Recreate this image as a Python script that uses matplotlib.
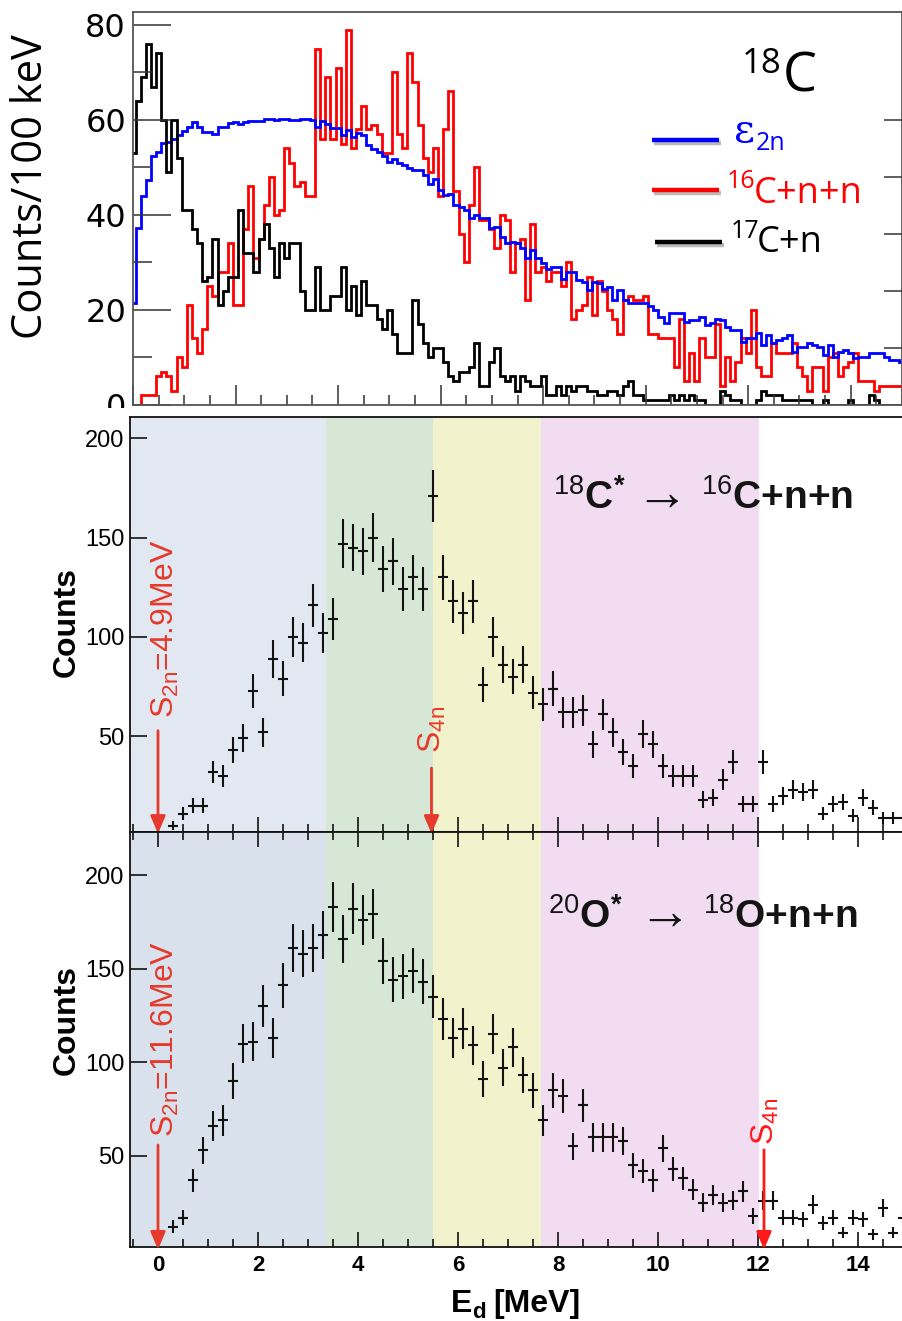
import numpy as np
import matplotlib
matplotlib.use("Agg")
import matplotlib.pyplot as plt
import matplotlib.patheffects as pe
from matplotlib.lines import Line2D
from matplotlib.patches import Rectangle
from matplotlib.ticker import MultipleLocator, FixedLocator

plt.rcParams["mathtext.fontset"] = "custom"
plt.rcParams["mathtext.rm"] = "Liberation Sans"
plt.rcParams["mathtext.it"] = "Liberation Sans:italic"
plt.rcParams["mathtext.bf"] = "Liberation Sans:bold"

W, H = 903, 1321

# ---------------------------------------------------------------- data
# 18C decay-energy spectra: 100 keV bins centred on 0.0, 0.1, ..., 15.0 MeV
top_bin_centers = np.round(np.arange(151) * 0.1, 2)

eff_2n = [
    21.4, 37.3, 44.0, 47.3, 52.4, 53.3, 55.1, 55.4, 55.9, 56.8,
    57.7, 58.6, 59.6, 58.6, 57.5, 57.5, 57.0, 58.6, 58.6, 59.3,
    59.6, 59.1, 59.6, 59.8, 59.8, 59.8, 60.2, 60.2, 60.0, 60.2,
    60.2, 60.0, 60.0, 60.2, 60.2, 60.0, 58.4, 59.8, 59.1, 58.2,
    58.2, 56.8, 57.9, 56.3, 57.2, 56.8, 54.7, 53.8, 53.3, 52.3,
    51.1, 51.8, 50.9, 50.4, 49.9, 49.4, 49.4, 48.4, 46.6, 47.6,
    45.3, 44.2, 44.5, 42.1, 41.7, 41.0, 39.3, 40.0, 39.3, 39.3,
    37.2, 37.5, 35.4, 34.0, 34.4, 34.0, 33.0, 30.9, 32.6, 30.9,
    29.8, 28.7, 29.1, 29.1, 26.6, 28.0, 28.0, 26.3, 25.9, 24.2,
    25.9, 25.6, 24.5, 24.9, 22.1, 24.2, 22.1, 21.4, 21.4, 21.4,
    21.4, 20.8, 20.0, 18.6, 17.2, 19.3, 19.3, 19.3, 17.5, 17.9,
    17.9, 18.6, 16.8, 17.2, 18.2, 17.9, 16.5, 15.8, 15.8, 13.3,
    14.0, 14.0, 15.1, 12.6, 14.7, 13.0, 13.7, 14.0, 14.7, 11.2,
    12.3, 12.3, 13.0, 12.6, 12.3, 10.5, 12.6, 10.2, 11.2, 11.6,
    10.9, 9.8, 10.2, 10.2, 10.9, 10.9, 10.9, 10.2, 9.5, 9.5, 9.1,
]

counts_16c_nn = [
    0, 0, 2, 2, 2, 6, 7, 6, 3, 10,
    8, 21, 14, 11, 16, 25, 23, 28, 28, 34,
    21, 21, 37, 46, 31, 35, 42, 48, 40, 41,
    54, 51, 46, 47, 44, 44, 75, 56, 69, 56,
    71, 55, 79, 54, 58, 63, 58, 59, 57, 53,
    53, 70, 57, 54, 74, 68, 59, 52, 49, 54,
    44, 58, 66, 45, 36, 30, 42, 50, 39, 39,
    37, 33, 40, 39, 28, 34, 35, 22, 38, 28,
    29, 26, 28, 28, 25, 30, 18, 20, 21, 27,
    19, 26, 24, 20, 18, 15, 22, 23, 22, 22,
    23, 15, 15, 14, 14, 14, 8, 18, 5, 11,
    5, 14, 10, 10, 17, 4, 10, 5, 9, 14,
    11, 20, 8, 6, 6, 13, 11, 11, 11, 13,
    8, 6, 3, 8, 8, 3, 10, 11, 6, 8,
    9, 11, 5, 5, 5, 3, 4, 4, 4, 4, 4,
]

counts_17c_n = [
    53, 64, 69, 76, 67, 74, 60, 49, 60, 52,
    41, 41, 37, 34, 26, 27, 35, 21, 24, 27,
    27, 41, 32, 32, 28, 35, 38, 33, 27, 34,
    31, 34, 34, 24, 20, 20, 29, 20, 20, 23,
    23, 29, 20, 25, 19, 26, 21, 21, 18, 16,
    20, 15, 11, 11, 11, 22, 17, 13, 10, 12,
    12, 9, 6, 5, 7, 7, 8, 13, 4, 4,
    9, 12, 6, 5, 6, 3, 6, 5, 4, 4,
    6, 2, 2, 4, 2, 4, 3, 4, 4, 3,
    3, 2, 2, 3, 3, 2, 4, 5, 2, 2,
    1, 1, 1, 1, 1, 2, 1, 2, 1, 2,
    1, 1, 0, 0, 0, 3, 2, 1, 1, 0,
    0, 0, 1, 3, 2, 2, 2, 1, 1, 1,
    1, 1, 1, 0, 0, 1, 0, 0, 0, 0,
    1, 0, 0, 0, 2, 1, 0, 0, 0, 0, 0,
]

# Ed spectra: 200 keV bins centred on 0.3, 0.5, ..., 14.9 MeV
ed_centers = np.round(0.3 + 0.2 * np.arange(74), 2)

counts_18c = [
    5, 11, 15, 15, 32, 30, 43, 49, 73, 52,
    89, 79, 100, 97, 116, 102, 109, 147, 145, 143,
    150, 134, 138, 124, 130, 124, 171, 130, 118, 112,
    118, 76, 100, 86, 80, 86, 72, 66, 74, 62,
    62, 63, 46, 61, 52, 42, 35, 51, 46, 35,
    30, 30, 30, 18, 19, 28, 37, 16, 16, 37,
    16, 20, 23, 22, 23, 11, 16, 17, 10, 19,
    14, 9, 9, 9,
]

counts_20o = [
    12, 17, 37, 53, 66, 69, 90, 110, 111, 130,
    113, 141, 161, 158, 161, 168, 183, 166, 182, 176,
    179, 154, 144, 146, 149, 143, 135, 123, 113, 118,
    109, 91, 115, 97, 108, 93, 85, 69, 85, 82,
    55, 77, 60, 60, 60, 58, 45, 42, 37, 54,
    43, 38, 32, 25, 29, 25, 26, 31, 18, 26,
    26, 17, 17, 16, 24, 14, 17, 9, 17, 16,
    8, 22, 9, 17,
]

# Ed windows (MeV) and their fills
window_bounds = [-0.56, 3.36, 5.49, 7.66, 12.01]
window_colors_mid = ["#e1e8f1", "#d6e8d5", "#f2f2cd", "#f2dcf1"]
window_colors_bot = ["#d9e2ec", "#d6e8d5", "#f2f2cd", "#f2dcf1"]

# thresholds
s2n_18c, s4n_18c = 0.0, 5.47
s2n_20o, s4n_20o = 0.0, 12.12


def rect(x0, y0, x1, y1):
    return [x0 / W, 1 - y1 / H, (x1 - x0) / W, (y1 - y0) / H]


def fx(px):
    return px / W


def fy(py):
    return 1 - py / H


fig = plt.figure(figsize=(W / 100, H / 100), dpi=100)

# ---------------------------------------------------------------- top panel
ax_t = fig.add_axes(rect(133, 12, 902, 405))
ax_t.set_zorder(1)
edges = np.append(top_bin_centers - 0.05, top_bin_centers[-1] + 0.05)
ax_t.stairs(counts_16c_nn, edges, color="#ff0000", lw=2.0, baseline=None)
ax_t.stairs(eff_2n, edges, color="#0000ff", lw=2.0, baseline=None)
ax_t.stairs(counts_17c_n, edges, color="black", lw=2.0, baseline=None)
ax_t.set_xlim(0, 15)
ax_t.set_ylim(0, 82.7)
ax_t.xaxis.set_major_locator(MultipleLocator(2))
ax_t.xaxis.set_minor_locator(MultipleLocator(0.5))
ax_t.yaxis.set_major_locator(MultipleLocator(20))
ax_t.yaxis.set_minor_locator(MultipleLocator(10))
ax_t.tick_params(axis="x", which="major", direction="in", length=14.4, width=1.1,
                 color="#333333", labelbottom=False)
ax_t.tick_params(axis="x", which="minor", direction="in", length=7.2, width=1.1,
                 color="#333333")
ax_t.tick_params(axis="y", which="major", direction="in", length=27.4, width=1.1,
                 color="#333333", labelsize=23, pad=5)
ax_t.tick_params(axis="y", which="minor", direction="in", length=13.7, width=1.1,
                 color="#333333")
for lbl in ax_t.get_yticklabels():
    lbl.set_fontfamily("DejaVu Sans")
for sp in ax_t.spines.values():
    sp.set_color("#555555")
    sp.set_linewidth(1.3)

ax_r = ax_t.twinx()
ax_r.set_zorder(1)
ax_r.set_ylim(0, 82.7)
ax_r.yaxis.set_major_locator(FixedLocator([12, 24, 36, 48, 60]))
ax_r.yaxis.set_minor_locator(FixedLocator([]))
ax_r.tick_params(axis="y", direction="in", length=13, width=1.1, color="#333333",
                 labelright=False)
for sp in ax_r.spines.values():
    sp.set_visible(False)

fig.text(fx(31), fy(187), "Counts/100 keV", rotation=90, ha="center", va="center",
         fontsize=30, family="Open Sans", color="black")

# nucleus label and legend
fig.text(fx(742), fy(73), "18", fontsize=25, family="Open Sans", ha="left",
         va="baseline")
fig.text(fx(783), fy(92), "C", fontsize=39, family="Open Sans", ha="left",
         va="baseline")

shadow = [pe.SimpleLineShadow(offset=(1.5, -2.5), shadow_color="#777777", alpha=0.5),
          pe.Normal()]
for (x0, x1, y, c) in [(652, 719, 140, "#0000ff"), (652, 719, 190, "#ff0000"),
                       (655, 722, 242, "black")]:
    fig.add_artist(Line2D([fx(x0), fx(x1)], [fy(y), fy(y)], color=c, lw=3.2,
                          solid_capstyle="butt", path_effects=shadow,
                          transform=fig.transFigure, zorder=5))

fig.text(fx(734), fy(142), "\u03b5", fontsize=29, family="DejaVu Serif",
         color="#0000ff", ha="left", va="baseline")
fig.text(fx(756), fy(150), "2n", fontsize=18, family="Open Sans",
         color="#0000ff", ha="left", va="baseline")
fig.text(fx(727), fy(188), "16", fontsize=18, family="Open Sans",
         color="#ff0000", ha="left", va="baseline")
fig.text(fx(754), fy(203), "C+n+n", fontsize=26, family="Open Sans",
         color="#ff0000", ha="left", va="baseline")
fig.text(fx(731), fy(238), "17", fontsize=18, family="Open Sans",
         color="black", ha="left", va="baseline")
fig.text(fx(757), fy(252), "C+n", fontsize=26, family="Open Sans",
         color="black", ha="left", va="baseline")

# hide the lower part of the top panel's "0" label
fig.add_artist(Rectangle((0, 0), 128 / W, 1 - 408 / H, transform=fig.transFigure,
                         facecolor="white", edgecolor="none", zorder=2))


# ---------------------------------------------------------------- Ed panels
def ed_panel(box, ylim, counts, colors):
    ax = fig.add_axes(rect(*box))
    ax.set_zorder(3)
    ax.set_xlim(-0.56, 15.04)
    ax.set_ylim(*ylim)
    for i, c in enumerate(colors):
        ax.axvspan(window_bounds[i], window_bounds[i + 1], color=c, lw=0, zorder=0)
    counts = np.asarray(counts, dtype=float)
    ax.errorbar(ed_centers, counts, xerr=0.1, yerr=np.sqrt(counts), fmt="none",
                ecolor="#121212", elinewidth=1.5, capsize=0, zorder=3)
    ax.xaxis.set_major_locator(MultipleLocator(2))
    ax.xaxis.set_minor_locator(MultipleLocator(0.5))
    ax.yaxis.set_major_locator(FixedLocator([50, 100, 150, 200]))
    ax.tick_params(axis="y", which="major", direction="in", length=12, width=1.1,
                   labelsize=17, pad=4)
    ax.tick_params(axis="x", which="major", direction="in", length=10.5, width=1.1)
    ax.tick_params(axis="x", which="minor", direction="in", length=5.5, width=1.1)
    for lbl in ax.get_yticklabels():
        lbl.set_fontfamily("Liberation Sans")
    for sp in ax.spines.values():
        sp.set_linewidth(1.3)
        sp.set_color("#111111")
    ax.spines["right"].set_visible(False)
    return ax


ax_m = ed_panel((130, 417, 910, 832), (1.8, 210.7), counts_18c, window_colors_mid)
ax_m.tick_params(axis="x", labelbottom=False)

ax_b = ed_panel((130, 832, 910, 1247), (1.3, 223.0), counts_20o, window_colors_bot)
ax_b.tick_params(axis="x", which="both", top=True, labelsize=16, pad=6)
for lbl in ax_b.get_xticklabels():
    lbl.set_fontfamily("Liberation Sans")
    lbl.set_fontweight("bold")

RED = "#e63a2c"
arrow_kw = dict(arrowstyle="-|>,head_length=0.7,head_width=0.3", lw=2.0,
                mutation_scale=15, shrinkA=0, shrinkB=0)


def threshold(ax, x, y_top, y_tip, label, lx, ly, color):
    ax.annotate("", xy=(x, y_tip), xytext=(x, y_top), annotation_clip=False,
                arrowprops=dict(color=color, **arrow_kw), zorder=4)
    ax.text(lx, ly, label, rotation=90, ha="center", va="bottom", fontsize=23,
            color=color, family="Liberation Sans", zorder=4)


threshold(ax_m, s2n_18c, 52.8, 1.0, r"S$_{\mathrm{2n}}$=4.9MeV", 0.14, 59.2, RED)
threshold(ax_m, s4n_18c, 34.0, 1.0, r"S$_{\mathrm{4n}}$", 5.48, 41.5, RED)
threshold(ax_b, s2n_20o, 55.8, 0.0, r"S$_{\mathrm{2n}}$=11.6MeV", 0.14, 60.1, RED)
threshold(ax_b, s4n_20o, 53.2, 0.0, r"S$_{\mathrm{4n}}$", 12.14, 55.8, "#ff1a1a")

# reaction labels: parent, arrow, products
TXT = "#141414"
for (x_parent, x_arrow, x_prod, y_base, parent, products) in [
        (553, 627, 701, 509, r"$^{18}$C$^{\mathbf{*}}$", r"$^{16}$C+n+n"),
        (548, 630, 703, 928, r"$^{20}$O$^{\mathbf{*}}$", r"$^{18}$O+n+n")]:
    fig.text(fx(x_parent), fy(y_base), parent, fontsize=28, fontweight="bold",
             family="Liberation Sans", color=TXT, ha="left", va="baseline", zorder=6)
    fig.text(fx(x_arrow), fy(y_base), r"$\rightarrow$", fontsize=38,
             color=TXT, ha="left", va="baseline", zorder=6)
    fig.text(fx(x_prod), fy(y_base), products, fontsize=28, fontweight="bold",
             family="Liberation Sans", color=TXT, ha="left", va="baseline", zorder=6)

for yc in (622, 1020):
    fig.text(fx(67), fy(yc), "Counts", rotation=90, ha="center", va="center",
             fontsize=23, fontweight="bold", family="Liberation Sans")

fig.text(fx(451), fy(1312), "E", fontsize=23, fontweight="bold",
         family="Liberation Sans", ha="left", va="baseline")
fig.text(fx(472), fy(1318), "d", fontsize=16, fontweight="bold",
         family="Liberation Sans", ha="left", va="baseline")
fig.text(fx(493), fy(1312), "[MeV]", fontsize=23, fontweight="bold",
         family="Liberation Sans", ha="left", va="baseline")

fig.savefig("out.png", dpi=100)
